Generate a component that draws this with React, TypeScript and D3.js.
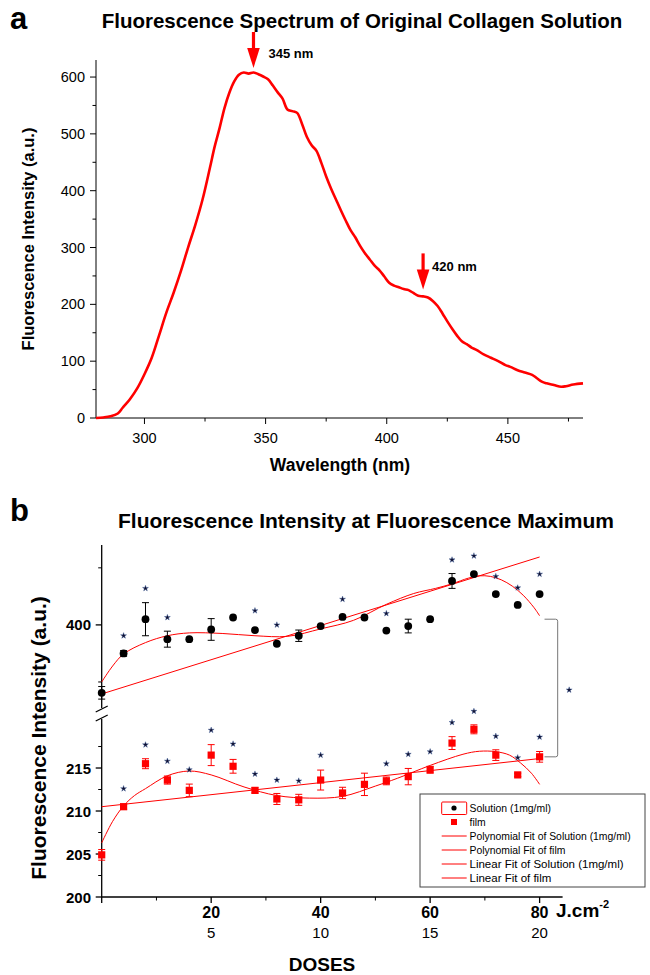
import React from "react";
import * as d3 from "d3";

const FONT = "'Liberation Sans', Arial, Helvetica, sans-serif";

// ---- panel a: spectrum ----
const wavelength = [280, 283, 286, 289, 291, 294, 297, 300, 303, 306, 309, 312, 315, 318, 321, 324, 327, 329, 331, 333, 335, 337, 339, 341, 343, 345, 347, 349, 351, 353, 355, 357, 359, 361, 363, 365, 367, 369, 371, 373, 375, 377, 379, 381, 383, 385, 387, 389, 391, 393, 395, 397, 399, 401, 403, 405, 407, 409, 411, 413, 415, 417, 419, 421, 423, 425, 427, 429, 431, 433, 435, 437, 440, 443, 446, 449, 451, 454, 457, 460, 462, 464, 466, 469, 472, 474, 477, 481];
const intensity = [0, 1, 3, 8, 18, 33, 52, 77, 106, 145, 185, 220, 258, 300, 340, 385, 440, 478, 510, 545, 572, 592, 604, 608, 606, 608, 605, 601, 596, 585, 573, 562, 543, 540, 537, 518, 495, 480, 470, 449, 425, 404, 385, 366, 348, 331, 318, 303, 290, 279, 268, 260, 249, 238, 233, 230, 227, 225, 220, 215, 214, 212, 206, 197, 184, 170, 157, 145, 135, 130, 124, 120, 112, 106, 100, 93, 90, 84, 80, 76, 70, 64, 61, 58, 55, 56, 59, 61];
const peakNm = [345, 415];
const peakValue = [608, 214];
const peakLabel = ["345 nm", "420 nm"];
const aYTicks = [0, 100, 200, 300, 400, 500, 600];
const aYMinor = [50, 150, 250, 350, 450, 550];
const aXTicks = [300, 350, 400, 450];
const aXMinor = [325, 375, 425, 475];

// ---- panel b: intensity vs dose ----
const doses = [0, 4, 8, 12, 16, 20, 24, 28, 32, 36, 40, 44, 48, 52, 56, 60, 64, 68, 72, 76, 80];
const solution = [281, 350, 410, 375, 375, 392, 413, 391, 367, 381, 398, 414, 413, 390, 398, 410, 477, 489, 454, 435, 454];
const solutionErr = [11, 5, 29, 14, 0, 19, 0, 0, 0, 10, 0, 0, 0, 0, 12, 0, 13, 0, 0, 0, 0];
const solutionStar = [null, 381, 464, 413, null, null, null, 425, 400, null, null, 445, null, 420, null, null, 514, 521, 485, 465, 489];
const film = [204.9, 210.5, 215.5, 213.6, 212.4, 216.5, 215.2, 212.4, 211.4, 211.3, 213.6, 212.1, 213.1, 213.5, 214.0, 214.8, 217.9, 219.5, 216.5, 214.2, 216.3];
const filmErr = [0.62, 0.3, 0.58, 0.47, 0.73, 1.22, 0.8, 0.3, 0.64, 0.64, 1.16, 0.66, 1.3, 0.45, 0.95, 0.4, 0.75, 0.52, 0.62, 0.2, 0.62];
const filmStar = [null, 212.6, 217.7, 215.8, 214.8, 219.4, 217.8, 214.3, 213.6, 213.5, 216.5, null, null, 215.5, 216.6, 216.9, 220.3, 221.6, 218.7, 216.2, 218.6];

const solPolyX = [0, 2, 4, 8, 12, 16, 22, 28, 34, 40, 46, 52, 57, 61, 64, 67, 69, 71, 73, 75, 77, 79, 80];
const solPolyY = [300, 328, 349, 369, 381, 386, 385, 381, 380, 393, 408, 436, 455, 464, 472, 482, 486, 485, 479, 468, 452, 430, 416];
const filmPolyX = [0, 2, 4, 6, 8, 12, 16, 20, 26, 32, 38, 44, 50, 54, 60, 66, 69, 72, 74.5, 76.5, 78.5, 80];
const filmPolyY = [206.3, 208.8, 210.6, 211.8, 212.6, 214.1, 214.65, 214.2, 212.8, 211.8, 211.5, 211.7, 212.9, 213.8, 215.3, 216.6, 216.95, 216.9, 216.5, 215.6, 214.4, 213.1];
const solLinX = [0, 80];
const solLinY = [279, 519];
const filmLinX = [0, 80];
const filmLinY = [210.5, 216.1];

const upTicks = [400];
const upMinor = [300, 500];
const loTicks = [200, 205, 210, 215];
const loMinor = [202.5, 207.5, 212.5, 217.5];
const doseTicks = [20, 40, 60, 80];
const doseMinor = [10, 30, 50, 70];
const doseTicks2 = ["5", "10", "15", "20"];

// significance bracket between series
const bracketX = [80.9, 83.3];
const bracketTop = 410;
const bracketBottom = 216.3;
const bracketStarX = 85.4;
const bracketStarY = 286;

const legendItems = [
  "Solution (1mg/ml)",
  "film",
  "Polynomial Fit of Solution (1mg/ml)",
  "Polynomial Fit of film",
  "Linear Fit of Solution (1mg/ml)",
  "Linear Fit of film",
];

const RED = "#ff0000";

export default function App() {
  // panel a scales
  const xA = d3.scaleLinear().domain([280, 481]).range([96, 583]);
  const yA = d3.scaleLinear().domain([0, 630]).range([418, 60]);
  const spectrum = d3
    .line<number>()
    .x((_, i) => xA(wavelength[i]))
    .y((d) => yA(d))
    .curve(d3.curveCatmullRom)(intensity) as string;

  // panel b scales
  const xB = d3.scaleLinear().domain([0, 84.2]).range([101.7, 562.6]);
  const yUp = d3.scaleLinear().domain([254.4, 540]).range([708, 545]);
  const yLo = d3.scaleLinear().domain([200, 220.7]).range([897, 719]);
  const axB = xB(0);

  const fitLine = (xs: number[], ys: number[], y: d3.ScaleLinear<number, number>) =>
    d3
      .line<number>()
      .x((_, i) => xB(xs[i]))
      .y((d) => y(d))
      .curve(d3.curveCatmullRom)(ys) as string;

  const star = d3.symbol(d3.symbolStar, 11)() as string;

  return (
    <div style={{ position: "absolute", left: 0, top: 0 }}>
      <svg width={650} height={975} style={{ display: "block", background: "#fff" }} fontFamily={FONT}>
        {/* ===== panel a ===== */}
        <text x={10} y={29} fontSize={31} fontWeight="bold">a</text>
        <text x={362} y={28} fontSize={20.5} fontWeight="bold" textAnchor="middle">
          Fluorescence Spectrum of Original Collagen Solution
        </text>
        <line x1={xA.range()[0]} x2={xA.range()[0]} y1={yA.range()[1]} y2={yA.range()[0]} stroke="#000" />
        <line x1={xA.range()[0]} x2={xA.range()[1]} y1={yA(0)} y2={yA(0)} stroke="#000" />
        {aYTicks.map((t) => (
          <g key={"ay" + t}>
            <line x1={96 - 6} x2={96} y1={yA(t)} y2={yA(t)} stroke="#000" />
            <text x={85} y={yA(t) + 5} fontSize={14.5} textAnchor="end">{t}</text>
          </g>
        ))}
        {aYMinor.map((t) => (
          <line key={"aym" + t} x1={96 - 3.5} x2={96} y1={yA(t)} y2={yA(t)} stroke="#000" />
        ))}
        {aXTicks.map((t) => (
          <g key={"ax" + t}>
            <line x1={xA(t)} x2={xA(t)} y1={418} y2={424} stroke="#000" />
            <text x={xA(t)} y={443} fontSize={14.5} textAnchor="middle">{t}</text>
          </g>
        ))}
        {aXMinor.map((t) => (
          <line key={"axm" + t} x1={xA(t)} x2={xA(t)} y1={418} y2={421.5} stroke="#000" />
        ))}
        <text x={340} y={471} fontSize={17.5} fontWeight="bold" textAnchor="middle">Wavelength (nm)</text>
        <text transform="translate(34,239) rotate(-90)" fontSize={16.5} fontWeight="bold" textAnchor="middle">
          Fluorescence Intensity (a.u.)
        </text>
        <path d={spectrum} fill="none" stroke={RED} strokeWidth={2.6} strokeLinejoin="round" />
        {peakNm.map((nm, i) => {
          const x = xA(nm);
          const tip = yA(peakValue[i]) - (i === 0 ? 4.5 : 7);
          return (
            <g key={"pk" + nm}>
              <line x1={x} x2={x} y1={tip - 36} y2={tip - 18} stroke={RED} strokeWidth={3.2} />
              <path d={`M${x - 6.3},${tip - 20}L${x + 6.3},${tip - 20}L${x},${tip}Z`} fill={RED} />
              <text x={x + (i === 0 ? 15 : 9)} y={tip + (i === 0 ? -10 : -18)} fontSize={13} fontWeight="bold">
                {peakLabel[i]}
              </text>
            </g>
          );
        })}

        {/* ===== panel b ===== */}
        <text x={10} y={521} fontSize={31} fontWeight="bold">b</text>
        <text x={366} y={528} fontSize={21} fontWeight="bold" textAnchor="middle">
          Fluorescence Intensity at Fluorescence Maximum
        </text>
        {/* y axis with break */}
        <line x1={axB} x2={axB} y1={yUp.range()[1]} y2={yUp.range()[0]} stroke="#000" strokeWidth={1.3} />
        <line x1={axB} x2={axB} y1={yLo.range()[1]} y2={yLo.range()[0]} stroke="#000" strokeWidth={1.3} />
        <line x1={axB - 6} x2={axB + 6} y1={712} y2={706} stroke="#000" strokeWidth={1.3} />
        <line x1={axB - 6} x2={axB + 6} y1={721} y2={715} stroke="#000" strokeWidth={1.3} />
        {upTicks.map((t) => (
          <g key={"ut" + t}>
            <line x1={axB - 6} x2={axB} y1={yUp(t)} y2={yUp(t)} stroke="#000" strokeWidth={1.3} />
            <text x={91} y={yUp(t) + 5.5} fontSize={15} fontWeight="bold" textAnchor="end">{t}</text>
          </g>
        ))}
        {upMinor.map((t) => (
          <line key={"um" + t} x1={axB - 3.5} x2={axB} y1={yUp(t)} y2={yUp(t)} stroke="#000" />
        ))}
        {loTicks.map((t) => (
          <g key={"lt" + t}>
            <line x1={axB - 6} x2={axB} y1={yLo(t)} y2={yLo(t)} stroke="#000" strokeWidth={1.3} />
            <text x={91} y={yLo(t) + 5.5} fontSize={15} fontWeight="bold" textAnchor="end">{t}</text>
          </g>
        ))}
        {loMinor.map((t) => (
          <line key={"lm" + t} x1={axB - 3.5} x2={axB} y1={yLo(t)} y2={yLo(t)} stroke="#000" />
        ))}
        {/* x axis */}
        <line x1={axB} x2={xB.range()[1]} y1={yLo(200)} y2={yLo(200)} stroke="#000" strokeWidth={1.3} />
        {[0, ...doseTicks].map((t) => (
          <line key={"xt" + t} x1={xB(t)} x2={xB(t)} y1={yLo(200)} y2={yLo(200) + 6} stroke="#000" strokeWidth={1.3} />
        ))}
        {doseMinor.map((t) => (
          <line key={"xm" + t} x1={xB(t)} x2={xB(t)} y1={yLo(200)} y2={yLo(200) + 3.5} stroke="#000" />
        ))}
        {doseTicks.map((t, i) => (
          <g key={"xl" + t}>
            <text x={xB(t)} y={918} fontSize={16} fontWeight="bold" textAnchor="middle">{t}</text>
            <text x={xB(t)} y={938} fontSize={15} textAnchor="middle">{doseTicks2[i]}</text>
          </g>
        ))}
        <text x={556} y={917} fontSize={19} fontWeight="bold">
          J.cm<tspan dy={-9} fontSize={11}>-2</tspan>
        </text>
        <text x={322} y={971} fontSize={19} fontWeight="bold" textAnchor="middle">DOSES</text>
        <text transform="translate(46,738) rotate(-90)" fontSize={21} fontWeight="bold" textAnchor="middle">
          Fluorescence Intensity (a.u.)
        </text>

        {/* fits */}
        <path d={fitLine(solPolyX, solPolyY, yUp)} fill="none" stroke={RED} strokeWidth={1} />
        <path d={fitLine(solLinX, solLinY, yUp)} fill="none" stroke={RED} strokeWidth={1} />
        <path d={fitLine(filmPolyX, filmPolyY, yLo)} fill="none" stroke={RED} strokeWidth={1} />
        <path d={fitLine(filmLinX, filmLinY, yLo)} fill="none" stroke={RED} strokeWidth={1} />

        {/* solution points */}
        {doses.map((d, i) => {
          const x = xB(d);
          const e = solutionErr[i];
          return (
            <g key={"s" + d}>
              {e > 0 && (
                <g stroke="#000" strokeWidth={1}>
                  <line x1={x} x2={x} y1={yUp(solution[i] - e)} y2={yUp(solution[i] + e)} />
                  <line x1={x - 3.5} x2={x + 3.5} y1={yUp(solution[i] - e)} y2={yUp(solution[i] - e)} />
                  <line x1={x - 3.5} x2={x + 3.5} y1={yUp(solution[i] + e)} y2={yUp(solution[i] + e)} />
                </g>
              )}
              <circle cx={x} cy={yUp(solution[i])} r={3.9} fill="#000" />
              {solutionStar[i] !== null && (
                <path d={star} transform={`translate(${x},${yUp(solutionStar[i] as number)})`} fill="#101030" stroke="#3b5a9a" strokeWidth={0.4} />
              )}
            </g>
          );
        })}
        {/* film points */}
        {doses.map((d, i) => {
          const x = xB(d);
          const e = filmErr[i];
          return (
            <g key={"f" + d}>
              <g stroke={RED} strokeWidth={1}>
                <line x1={x} x2={x} y1={yLo(film[i] - e)} y2={yLo(film[i] + e)} />
                <line x1={x - 3.5} x2={x + 3.5} y1={yLo(film[i] - e)} y2={yLo(film[i] - e)} />
                <line x1={x - 3.5} x2={x + 3.5} y1={yLo(film[i] + e)} y2={yLo(film[i] + e)} />
              </g>
              <rect x={x - 3.6} y={yLo(film[i]) - 3.6} width={7.2} height={7.2} fill={RED} />
              {filmStar[i] !== null && (
                <path d={star} transform={`translate(${x},${yLo(filmStar[i] as number)})`} fill="#101030" stroke="#3b5a9a" strokeWidth={0.4} />
              )}
            </g>
          );
        })}

        {/* bracket */}
        <path
          d={`M${xB(bracketX[0])},${yUp(bracketTop)}L${xB(bracketX[1]) - 2},${yUp(bracketTop)}Q${xB(bracketX[1])},${yUp(bracketTop)} ${xB(bracketX[1])},${yUp(bracketTop) + 2}L${xB(bracketX[1])},${yLo(bracketBottom) - 2}Q${xB(bracketX[1])},${yLo(bracketBottom)} ${xB(bracketX[1]) - 2},${yLo(bracketBottom)}L${xB(bracketX[0])},${yLo(bracketBottom)}`}
          fill="none"
          stroke="#777"
          strokeWidth={1}
        />
        <path d={star} transform={`translate(${xB(bracketStarX)},${yUp(bracketStarY)})`} fill="#101030" stroke="#3b5a9a" strokeWidth={0.4} />

        {/* legend */}
        <g>
          <rect x={420} y={794} width={225} height={93} fill="#fff" stroke="#444" strokeWidth={1} />
          {legendItems.map((label, i) => {
            const y = 808 + i * 14;
            return (
              <g key={"lg" + i}>
                {i === 0 && (
                  <>
                    <rect x={441.7} y={y - 6} width={25} height={12.5} fill="none" stroke={RED} rx={1} />
                    <circle cx={454} cy={y} r={2.6} fill="#000" />
                  </>
                )}
                {i === 1 && <rect x={451} y={y - 3} width={6} height={6} fill={RED} />}
                {i > 1 && <line x1={441.7} x2={466.7} y1={y} y2={y} stroke={RED} strokeWidth={1} />}
                <text x={469.5} y={y + (i > 3 ? 4.3 : 3.7)} fontSize={i > 3 ? 11.5 : 10.4}>{label}</text>
              </g>
            );
          })}
        </g>
      </svg>
    </div>
  );
}
